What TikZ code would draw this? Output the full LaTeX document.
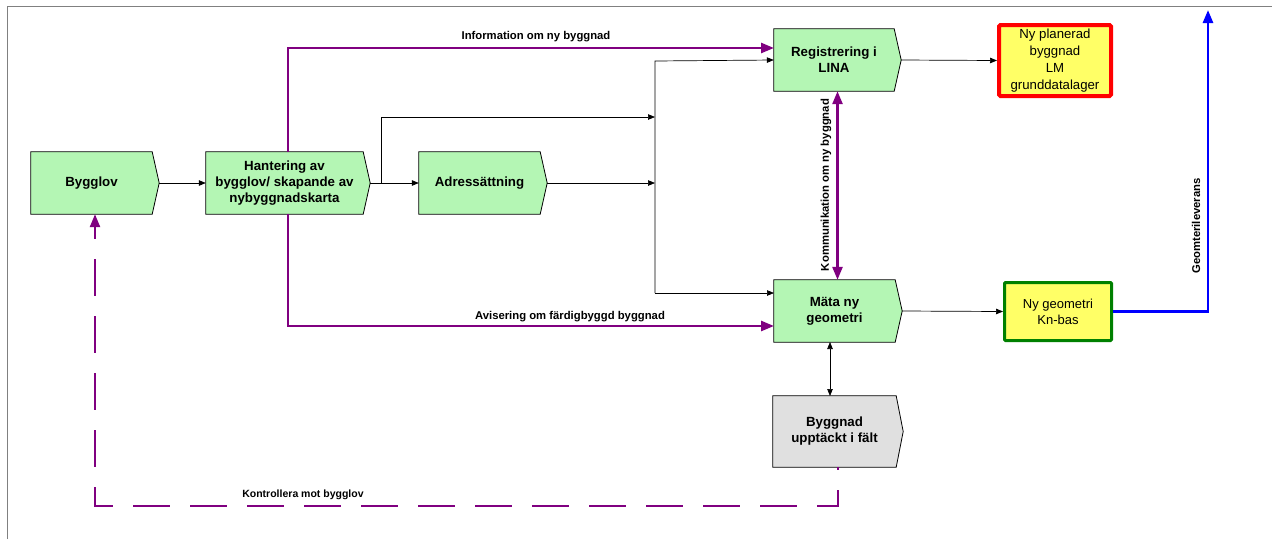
\documentclass[tikz,border=0pt]{standalone}
\usepackage{fontspec}
\setmainfont{Liberation Sans}
\usetikzlibrary{arrows.meta,calc}
\definecolor{procgreen}{RGB}{180,246,180}
\definecolor{procgray}{RGB}{224,224,224}
\definecolor{purp}{RGB}{128,0,128}
\definecolor{dbyellow}{RGB}{255,255,102}
\definecolor{framegray}{RGB}{128,128,128}
\tikzset{
  procbox/.style={inner sep=0pt, align=center, font=\bfseries\fontsize{13.3}{16}\selectfont},
  dbbox/.style={inner sep=0pt, align=center, font=\fontsize{13}{16}\selectfont},
  flow/.style={draw=black, line width=0.7pt, -{Triangle[length=7pt,width=5.5pt]}},
  flowboth/.style={draw=black, line width=0.7pt, {Triangle[length=7pt,width=5.5pt]}-{Triangle[length=7pt,width=5.5pt]}},
  info/.style={draw=purp, line width=2.6pt, -{Triangle[length=13pt,width=10pt]}},
  infoboth/.style={draw=purp, line width=2.6pt, {Triangle[length=13pt,width=10pt]}-{Triangle[length=13pt,width=10pt]}},
  ctrl/.style={draw=purp, line width=2.4pt, dash pattern=on 37pt off 20pt, dash phase=34pt, -{Triangle[length=13pt,width=10pt]}},
  geo/.style={draw=blue, line width=2.6pt, -{Triangle[length=13pt,width=10pt]}},
  lbl/.style={inner sep=0pt, font=\bfseries\fontsize{11.3}{13}\selectfont},
}
\newcommand{\procshape}[2]{%
  \draw[fill=#2, line width=0.8pt] (#1.north west) -- ($(#1.north east)+(-7,0)$) -- (#1.east) -- ($(#1.south east)+(-7,0)$) -- (#1.south west) -- cycle;}
\begin{document}
\begin{tikzpicture}[x=1pt,y=-1pt]
\useasboundingbox (0,0) rectangle (1272,539);
% frame
\draw[framegray, line width=1pt] (7,539) -- (7,6) -- (1272,6);

% process boxes
\node[procbox, minimum width=128, minimum height=62] (bygglov) at (95,183) {};
\procshape{bygglov}{procgreen}
\node[procbox] at (91.5,183) {Bygglov};

\node[procbox, minimum width=164, minimum height=62] (hant) at (288,183) {};
\procshape{hant}{procgreen}
\node[procbox] at (284.5,183) {Hantering av\\bygglov/ skapande av\\nybyggnadskarta};

\node[procbox, minimum width=128, minimum height=62] (adr) at (483,183) {};
\procshape{adr}{procgreen}
\node[procbox] at (479.5,183) {Adressättning};

\node[procbox, minimum width=127, minimum height=62] (reg) at (837.5,60) {};
\procshape{reg}{procgreen}
\node[procbox] at (834,60) {Registrering i\\LINA};

\node[procbox, minimum width=128, minimum height=62] (mata) at (838,311) {};
\procshape{mata}{procgreen}
\node[procbox] at (834.5,311) {Mäta ny\\geometri};

\node[procbox, minimum width=130, minimum height=71] (bygg) at (838,431.5) {};
\procshape{bygg}{procgray}
\node[procbox] at (834.5,431.5) {Byggnad\\upptäckt i fält};

% data stores
\node[dbbox, draw=red, line width=4pt, fill=dbyellow, rounded corners=1.5pt,
      minimum width=112, minimum height=71, font=\fontsize{13.2}{17}\selectfont] (nyplan) at (1055,60.5)
      {Ny planerad\\byggnad\\LM\\grunddatalager};
\node[dbbox, draw=green!50!black, line width=3pt, fill=dbyellow, rounded corners=1pt,
      minimum width=107, minimum height=58] (nygeo) at (1058,311.5)
      {Ny geometri\\Kn-bas};

% black flow connectors
\coordinate (b1) at (381,183);
\coordinate (j1) at (655,117);
\coordinate (j2) at (655,183);
\coordinate (v1) at (655,61);
\coordinate (v2) at (655,293);
\coordinate (m1) at (774,293);
\draw[flow] (bygglov.east) -- (hant.west);
\draw[flow] (hant.east) -- (adr.west);
\draw[flow] (b1) |- (j1);
\draw[flow] (adr.east) -- (j2);
\draw[flow] (v2) -- (v1) -- (reg.west);
\draw[flow] (v2) -- (m1);
\draw[flow] (reg.east) -- (nyplan.west);
\draw[flow] (mata.east) -- (nygeo.west);
\coordinate (ms) at (830,342);
\coordinate (bn) at (830,396);
\draw[flowboth] (ms) -- (bn);

% purple information connectors
\coordinate (p1) at (774,48);
\coordinate (p2) at (774,326);
\draw[info] (hant.north) |- (p1);
\draw[info] (hant.south) |- (p2);
\draw[infoboth] (reg.south) -- (reg.south |- mata.north);
\coordinate (c1) at (838,506);
\draw[ctrl] (bygg.south) -- (c1) -| (bygglov.south);

% blue geometry delivery
\coordinate (g1) at (1208,10);
\draw[geo] (nygeo.east) -| (g1);

% labels
\node[lbl] (l1) at (536,37) {Information om ny byggnad};
\node[lbl] (l2) at (570,317) {Avisering om färdigbyggd byggnad};
\node[lbl, rotate=90] (l3) at (826,185) {Kommunikation om ny byggnad};
\node[lbl, rotate=90] (l4) at (1196,226) {Geomterileverans};
\node[lbl, font=\bfseries\fontsize{10.5}{12}\selectfont] (l5) at (303,495) {Kontrollera mot bygglov};
\end{tikzpicture}
\end{document}
